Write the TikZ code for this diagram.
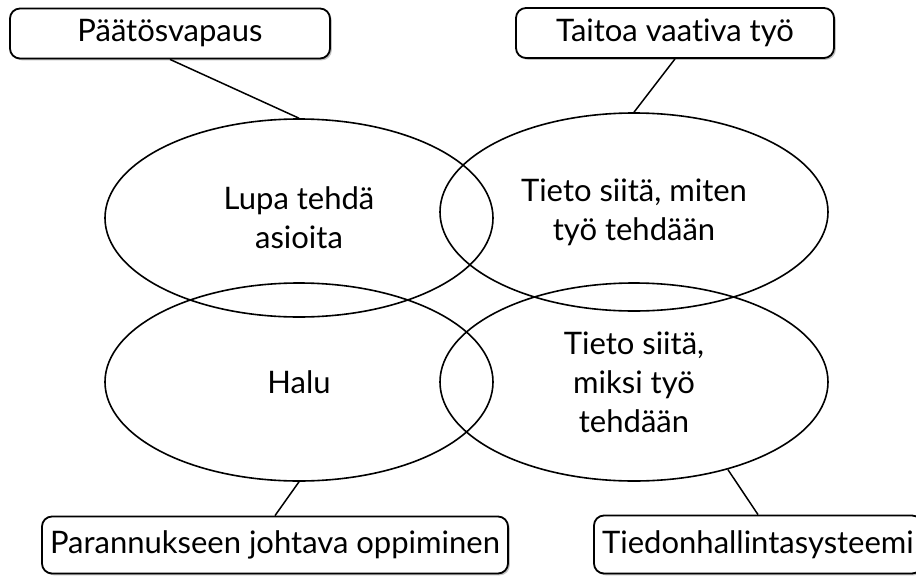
\documentclass[tikz,border=0pt]{standalone}
\usepackage{fontspec}
\setmainfont{Lato}[Ligatures=NoCommon]
\usetikzlibrary{shapes.geometric,shadows}
\begin{document}
\begin{tikzpicture}[x=1pt,y=-1pt,
  txt/.style={font=\fontsize{31}{39}\selectfont, align=center},
  labelbox/.style={txt, draw, line width=1.8pt, rounded corners=10pt, fill=white,
    inner sep=0pt, minimum height=50pt,
    drop shadow={shadow xshift=1.8pt, shadow yshift=-1.8pt, opacity=0.35, fill=black!70}},
  bubble/.style={txt, ellipse, draw, line width=1.6pt, inner sep=0pt,
    minimum width=388pt, minimum height=198pt},
  link/.style={line width=1.5pt}]
\useasboundingbox (0,0) rectangle (916,576);

% four overlapping ellipses
\node[bubble] (e1) at (299,218) {Lupa tehdä\\asioita};
\node[bubble] (e2) at (634,212) {Tieto siitä, miten\\työ tehdään};
\node[bubble] (e3) at (299,382) {Halu};
\node[bubble] (e4) at (634,382) {Tieto siitä,\\miksi työ\\tehdään};

% labelled boxes
\node[labelbox, minimum width=320pt] (b1) at (170,33.5) {Päätösvapaus};
\node[labelbox, minimum width=318pt] (b2) at (675,33) {Taitoa vaativa työ};
\node[labelbox, minimum width=466pt, minimum height=57pt] (b3) at (275,545) {Parannukseen johtava oppiminen};
\node[labelbox, minimum width=328pt, minimum height=58pt] (b4) at (758,544.5) {Tiedonhallintasysteemi};

% connectors
\draw[link] (b1.south) -- (e1.north);
\draw[link] (b2.south) -- (e2.north);
\draw[link] (b3.north) -- (e3.south);
\draw[link] (b4.north) -- (e4.-43);
\end{tikzpicture}
\end{document}
